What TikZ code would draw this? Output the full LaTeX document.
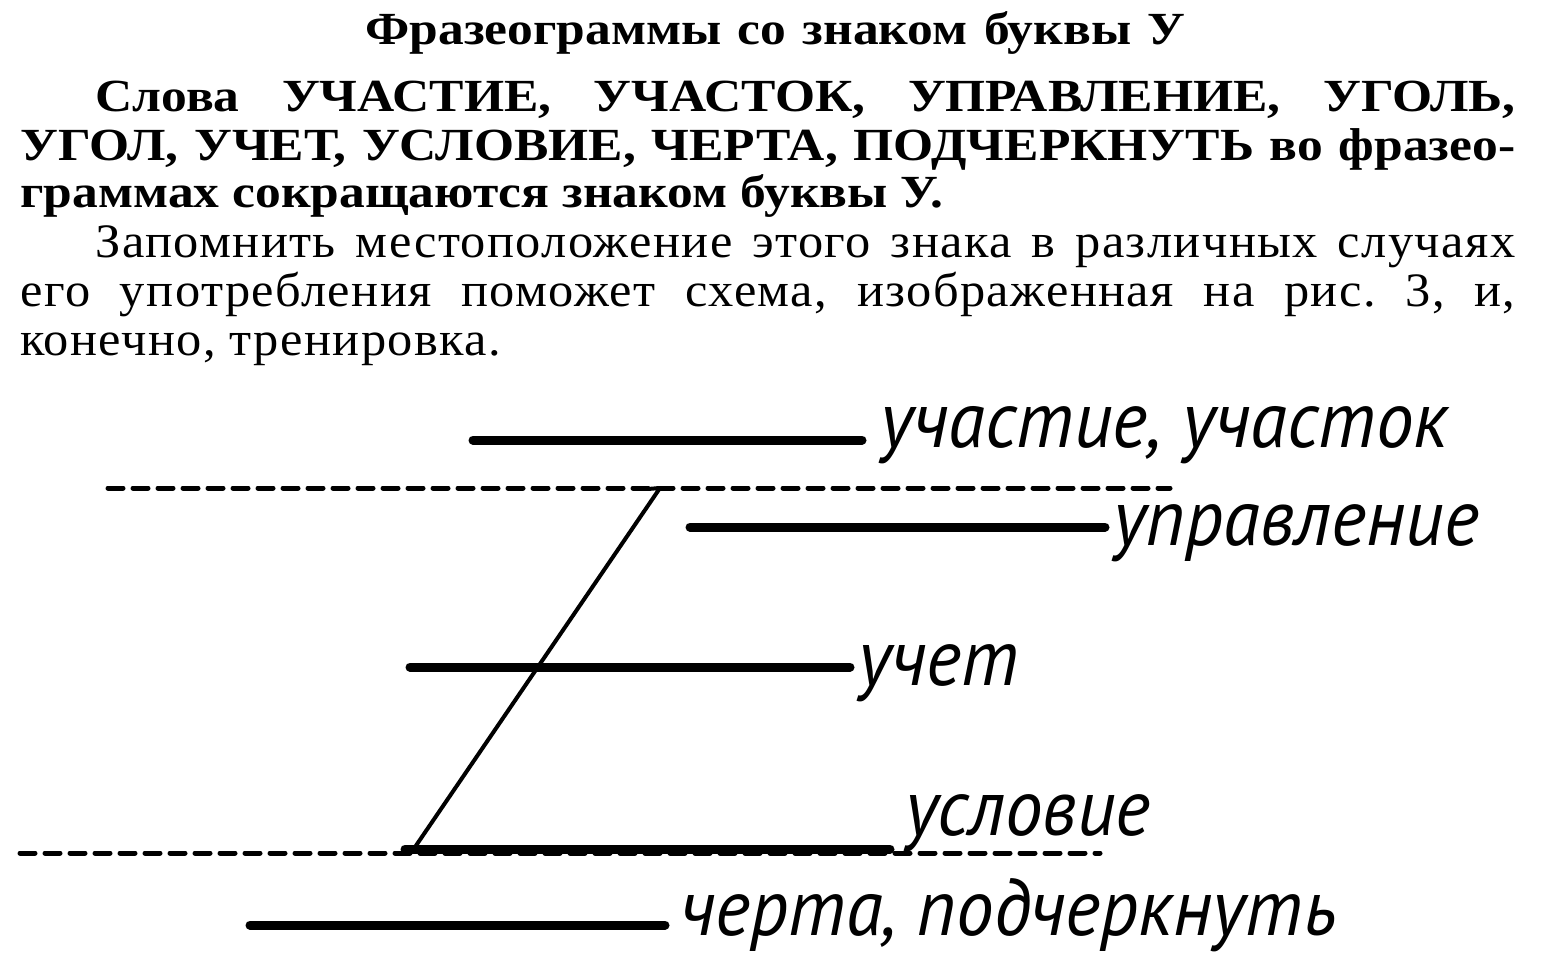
\documentclass[tikz,border=0pt]{standalone}
\usepackage{fontspec}
\setmainfont{Liberation Serif}
\newfontfamily\bookfont[FakeStretch=1.05, LetterSpace=3]{Liberation Serif}
\newfontfamily\boldfont[FakeStretch=1.12]{Liberation Serif}
\newfontfamily\handfont[FakeStretch=0.94]{PT Sans}
\usetikzlibrary{positioning}
\frenchspacing

\begin{document}
\begin{tikzpicture}[x=0.5pt, y=-0.5pt,
  txt/.style={inner sep=0, anchor=base west, font=\bookfont\fontsize{24}{26}\selectfont},
  bold/.style={txt, font=\boldfont\bfseries\fontsize{23}{26}\selectfont},
  lab/.style={inner sep=0, anchor=base west, font=\handfont\itshape\fontsize{40}{44}\selectfont},
  bar/.style={line width=4.5pt, line cap=round},
  guide/.style={line width=2.5pt, line cap=round, dash pattern=on 7.5pt off 5pt},
  slant/.style={line width=2pt, line cap=round, line join=round}]

\useasboundingbox (0,0) rectangle (1558,969);

% text above the scheme
\node[bold] (title) at (365,44) {\makebox[410pt][s]{Фразеограммы со знаком буквы У}};
\node[bold] (p1) at (95,111) {\makebox[710pt][s]{Слова УЧАСТИЕ, УЧАСТОК, УПРАВЛЕНИЕ, УГОЛЬ,}};
\node[bold] (p2) at (20,160) {\makebox[747.5pt][s]{УГОЛ, УЧЕТ, УСЛОВИЕ, ЧЕРТА, ПОДЧЕРКНУТЬ во фразео-}};
\node[bold] (p3) at (20,207) {граммах сокращаются знаком буквы У.};
\node[txt] (q1) at (95,257) {\makebox[710pt][s]{Запомнить местоположение этого знака в различных случаях}};
\node[txt] (q2) at (20,306) {\makebox[747.5pt][s]{его употребления поможет схема, изображенная на рис. 3, и,}};
\node[txt] (q3) at (20,355) {конечно, тренировка.};

% guide lines
\coordinate (top1) at (108,488);
\coordinate (top2) at (1170,488);
\coordinate (bot1) at (20,853);
\coordinate (bot2) at (1100,853);
\draw[guide] (top1) -- (top2);
\draw[guide] (bot1) -- (bot2);

% sign of the letter
\coordinate (hook) at (648,489);
\coordinate (sa) at (660,488);
\coordinate (sb) at (413,850);
\draw[slant] (hook) -- (sa) -- (sb);

% positions
\coordinate (a1) at (473,440);
\coordinate (a2) at (862,440);
\coordinate (b1) at (690,527);
\coordinate (b2) at (1105,527);
\coordinate (c1) at (410,667);
\coordinate (c2) at (850,667);
\coordinate (d1) at (405,849);
\coordinate (d2) at (890,849);
\coordinate (e1) at (250,925);
\coordinate (e2) at (665,925);

\draw[bar] (a1) -- (a2);
\draw[bar] (b1) -- (b2);
\draw[bar] (c1) -- (c2);
\draw[bar] (d1) -- (d2);
\draw[bar] (e1) -- (e2);

\node[lab] (uchastie) at (880,447) {участие, участок};
\node[lab] (upravlenie) at (1113,545) {управление};
\node[lab] (uchet) at (858,685) {учет};
\node[lab] (uslovie) at (905,835) {условие};
\node[lab] (cherta) at (680,935) {черта, подчеркнуть};

\end{tikzpicture}
\end{document}
